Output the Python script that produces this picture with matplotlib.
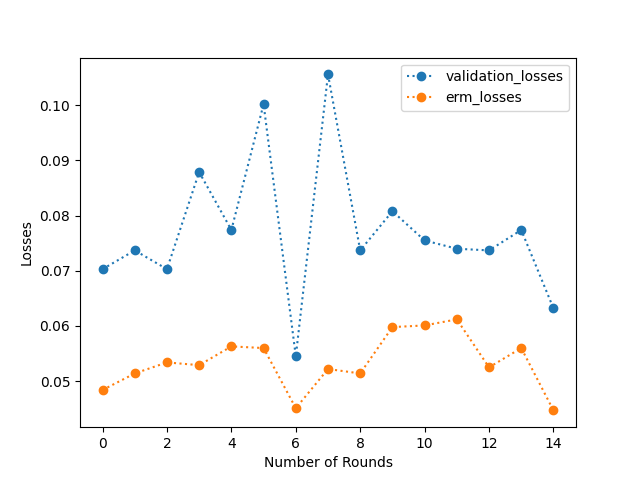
import matplotlib
matplotlib.use("Agg")
import matplotlib.pyplot as plt

rounds = list(range(15))
validation_losses = [0.0703, 0.0737, 0.0703, 0.0879, 0.0774, 0.1002, 0.0545, 0.1056,
                     0.0737, 0.0808, 0.0755, 0.0740, 0.0737, 0.0774, 0.0632]
erm_losses = [0.0484, 0.0514, 0.0534, 0.0529, 0.0563, 0.0560, 0.0451, 0.0522,
              0.0514, 0.0598, 0.0601, 0.0612, 0.0525, 0.0560, 0.0447]

fig, ax = plt.subplots(figsize=(6.4, 4.8), dpi=100)
ax.plot(rounds, validation_losses, linestyle=':', marker='o', label='validation_losses')
ax.plot(rounds, erm_losses, linestyle=':', marker='o', label='erm_losses')
ax.set_xlabel('Number of Rounds')
ax.set_ylabel('Losses')
ax.legend()
fig.savefig('out.png')
